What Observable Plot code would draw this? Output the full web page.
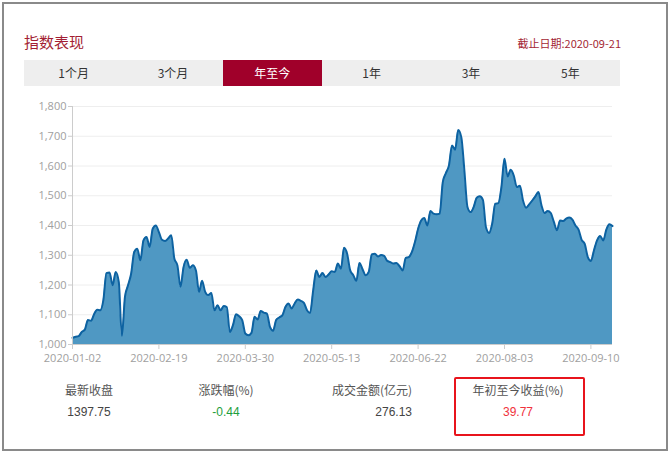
<!DOCTYPE html>
<html>
<head>
<meta charset="utf-8">
<script src="https://cdn.jsdelivr.net/npm/d3@7"></script>
<script src="https://cdn.jsdelivr.net/npm/@observablehq/plot@0.6"></script>
<style>
  html, body { margin: 0; padding: 0; background: #fff; }
  #page { position: relative; width: 672px; height: 456px; overflow: hidden; font-family: "Noto Sans CJK SC", "Liberation Sans", sans-serif; }
  #frame { position: absolute; left: 2px; top: 2px; width: 662px; height: 445px; border: 2px solid #8a8a8a; box-sizing: content-box; }
  #title { position: absolute; left: 24px; top: 32px; font-size: 15px; line-height: 20px; color: #a31f34; }
  #date { position: absolute; right: 51px; top: 35px; font-size: 11px; line-height: 16px; color: #a31f34; }
  #tabs { position: absolute; left: 24px; top: 60px; width: 596px; height: 26px; background: #eeeeee; display: flex; }
  #tabs div { flex: 1; text-align: center; font-size: 12px; line-height: 26px; color: #333; }
  #tabs div.active { background: #a0002a; color: #fff; }
  #chart { position: absolute; left: 0; top: 96px; }
  .lab { position: absolute; font-size: 12px; line-height: 16px; color: #555; white-space: nowrap; }
  .val { position: absolute; font-size: 12px; line-height: 16px; color: #444; font-family: "Liberation Sans", Arial, sans-serif; white-space: nowrap; }
  #box { position: absolute; left: 454px; top: 377px; width: 127px; height: 55px; border: 2px solid #e8141c; border-radius: 2px; }
</style>
</head>
<body>
<div id="page">
  <div id="frame"></div>
  <div id="title">指数表现</div>
  <div id="date">截止日期:2020-09-21</div>
  <div id="tabs"></div>
  <div id="chart"></div>
  <div id="stats"></div>
  <div id="box"></div>
</div>
<script>
// ---- data ----
const tabs = ["1个月", "3个月", "年至今", "1年", "3年", "5年"];
const activeTab = "年至今";

const tickLabels = ["2020-01-02", "2020-02-19", "2020-03-30", "2020-05-13", "2020-06-22", "2020-08-03", "2020-09-10"];
const tickIndex = [0, 28, 56, 84, 112, 140, 168];

// daily index close, trading days from 2020-01-02 to 2020-09-21
const values = [
  1022,1026,1028,1042,1050,1082,1080,1102,1117,1115,
  1149,1240,1242,1199,1244,1210,1029,1160,1199,1238,
  1311,1322,1283,1350,1361,1328,1389,1400,1378,1352,
  1348,1356,1367,1289,1266,1194,1261,1285,1258,1266,
  1249,1177,1214,1177,1166,1173,1115,1132,1115,1129,
  1126,1042,1065,1102,1095,1082,1037,1031,1039,1093,
  1084,1113,1107,1104,1059,1046,1082,1091,1098,1126,
  1138,1121,1138,1151,1147,1140,1115,1106,1182,1249,
  1227,1240,1227,1235,1246,1244,1272,1255,1325,1305,
  1249,1233,1214,1274,1253,1233,1244,1303,1305,1296,
  1301,1298,1281,1277,1272,1274,1263,1249,1291,1294,
  1311,1345,1389,1417,1425,1400,1449,1440,1438,1440,
  1546,1576,1602,1669,1655,1721,1697,1585,1462,1445,
  1462,1493,1498,1486,1394,1375,1406,1473,1475,1529,
  1624,1565,1587,1568,1529,1534,1484,1460,1471,1484,
  1498,1513,1467,1442,1449,1442,1412,1384,1417,1415,
  1423,1427,1420,1400,1386,1352,1338,1294,1281,1317,
  1350,1365,1350,1386,1404,1398
];
const yTicks = [1000, 1100, 1200, 1300, 1400, 1500, 1600, 1700, 1800];

const statLabels = ["最新收盘", "涨跌幅(%)", "成交金额(亿元)", "年初至今收益(%)"];
const statValues = ["1397.75", "-0.44", "276.13", "39.77"];
const statColors = ["#444", "#1e9e3c", "#444", "#f0323c"];

// ---- tabs ----
const tabsEl = document.getElementById("tabs");
tabs.forEach(t => {
  const d = document.createElement("div");
  d.textContent = t;
  if (t === activeTab) d.className = "active";
  tabsEl.appendChild(d);
});

// ---- stats ----
const statsEl = document.getElementById("stats");
const statPos = [
  {x: 89, align: "center"},
  {x: 226, align: "center"},
  {x: 412, align: "right"},
  {x: 518, align: "center"}
];
statLabels.forEach((l, i) => {
  const p = statPos[i];
  const a = document.createElement("div");
  a.className = "lab"; a.textContent = l;
  const b = document.createElement("div");
  b.className = "val"; b.textContent = statValues[i]; b.style.color = statColors[i];
  [a, b].forEach((el, k) => {
    el.style.top = (k === 0 ? 382 : 404) + "px";
    if (p.align === "center") { el.style.left = (p.x - 100) + "px"; el.style.width = "200px"; el.style.textAlign = "center"; }
    else { el.style.right = (672 - p.x) + "px"; el.style.textAlign = "right"; }
    statsEl.appendChild(el);
  });
});

// ---- chart ----
const data = values.map((v, i) => ({i, v}));
const chart = Plot.plot({
  width: 672,
  height: 272,
  marginLeft: 72,
  marginRight: 60,
  marginTop: 10,
  marginBottom: 24,
  style: {fontFamily: "'Open Sans', 'Noto Sans', sans-serif", fontSize: "11px", color: "#a0a0a0", background: "transparent"},
  x: {domain: [0, values.length - 1], axis: null},
  y: {domain: [1000, 1800], axis: null},
  marks: [
    Plot.ruleY(yTicks.slice(1), {stroke: "#eeeeee", strokeWidth: 1}),
    Plot.areaY(data, {x: "i", y1: 1000, y2: "v", curve: "monotone-x", fill: "#4f98c3", fillOpacity: 1}),
    Plot.lineY(data, {x: "i", y: "v", curve: "monotone-x", stroke: "#0d62a1", strokeWidth: 2}),
    Plot.ruleX([0], {stroke: "#cccccc", strokeWidth: 1}),
    Plot.ruleY([1000], {stroke: "#cccccc", strokeWidth: 1}),
    Plot.axisY(yTicks, {anchor: "left", label: null, tickSize: 4, tickPadding: 2, stroke: "#cccccc", tickFormat: d3.format(","), fill: "#a0a0a0", fontSize: 11}),
    Plot.axisX(tickIndex, {anchor: "bottom", label: null, tickSize: 5, tickPadding: 5, stroke: "#cccccc", tickFormat: (d) => tickLabels[tickIndex.indexOf(d)], fill: "#a0a0a0", fontSize: 11})
  ]
});
document.getElementById("chart").appendChild(chart);
</script>
</body>
</html>
